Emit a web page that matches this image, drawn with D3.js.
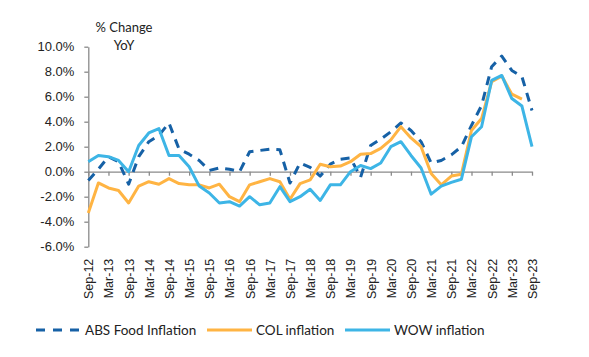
<!DOCTYPE html>
<html><head><meta charset="utf-8">
<script src="https://cdn.jsdelivr.net/npm/d3@7"></script>
<style>
html,body{margin:0;padding:0;background:#fff;}
svg{display:block;font-family:"Lato","Open Sans",sans-serif;}
</style></head><body>
<svg id="c" width="589" height="357"></svg>
<script>
const categories = ["Sep-12","Dec-12","Mar-13","Jun-13","Sep-13","Dec-13","Mar-14","Jun-14","Sep-14","Dec-14",
"Mar-15","Jun-15","Sep-15","Dec-15","Mar-16","Jun-16","Sep-16","Dec-16","Mar-17","Jun-17",
"Sep-17","Dec-17","Mar-18","Jun-18","Sep-18","Dec-18","Mar-19","Jun-19","Sep-19","Dec-19",
"Mar-20","Jun-20","Sep-20","Dec-20","Mar-21","Jun-21","Sep-21","Dec-21","Mar-22","Jun-22",
"Sep-22","Dec-22","Mar-23","Jun-23","Sep-23"];
const tickLabels = ["Sep-12","Mar-13","Sep-13","Mar-14","Sep-14","Mar-15","Sep-15","Mar-16","Sep-16","Mar-17","Sep-17",
"Mar-18","Sep-18","Mar-19","Sep-19","Mar-20","Sep-20","Mar-21","Sep-21","Mar-22","Sep-22","Mar-23","Sep-23"];
const yTicks = [-6,-4,-2,0,2,4,6,8,10];
const absFood = [-0.7,0.2,1.2,0.8,-1.0,1.2,2.4,2.9,3.9,1.8,
1.4,0.9,0.1,0.3,0.2,0.0,1.6,1.7,1.8,1.75,
-0.9,0.7,0.35,-0.35,0.6,1.0,1.1,-0.45,2.1,2.6,
3.2,3.9,3.3,2.4,0.7,0.9,1.35,2.0,3.7,5.3,
8.4,9.25,8.1,7.6,4.9];
const colInfl = [-3.3,-0.9,-1.3,-1.5,-2.5,-1.15,-0.8,-1.0,-0.55,-0.95,
-1.05,-1.05,-1.3,-1.0,-2.0,-2.4,-1.05,-0.8,-0.55,-0.8,
-2.2,-0.95,-0.65,0.6,0.4,0.45,0.8,1.4,1.45,1.87,
2.55,3.6,2.7,2.0,-0.15,-1.05,-0.35,-0.2,3.3,4.25,
7.2,7.65,6.2,5.8,null];
const wowInfl = [0.8,1.3,1.2,0.9,0.0,2.1,3.1,3.45,1.3,1.3,
0.4,-1.15,-1.7,-2.5,-2.4,-2.75,-2.0,-2.65,-2.5,-1.2,
-2.4,-2.0,-1.4,-2.3,-1.05,-1.05,0.0,0.5,0.25,0.7,
2.0,2.4,1.3,0.3,-1.8,-1.15,-0.85,-0.6,2.8,3.6,
7.3,7.7,5.85,5.25,2.0];
const seriesNames = ["ABS Food Inflation","COL inflation","WOW inflation"];
const colors = ["#1661a6","#ffb443","#3db5e6"];

const svg = d3.select("#c");
const x = d3.scalePoint().domain(categories).range([88.3, 532]);
const y = d3.scaleLinear().domain([-6,10]).range([246.7, 46.7]);
const axisColor = "#8a8a8a";

// y axis
const ya = svg.append("g").attr("transform","translate(88.3,0)")
  .call(d3.axisLeft(y).tickValues(yTicks).tickFormat(d=>d.toFixed(1)+"%").tickSize(4).tickSizeOuter(0).tickPadding(10));
ya.select(".domain").attr("stroke",axisColor).attr("stroke-width",1.3);
ya.selectAll(".tick line").attr("stroke",axisColor).attr("stroke-width",1.3);
ya.selectAll("text").attr("font-size",13).attr("fill","#222");

// x axis at zero
const xa = svg.append("g").attr("transform",`translate(0,${y(0)})`)
  .call(d3.axisBottom(x).tickValues(tickLabels).tickFormat("").tickSize(4).tickSizeOuter(0));
xa.select(".domain").attr("stroke",axisColor).attr("stroke-width",1.3);
xa.selectAll(".tick line").attr("stroke",axisColor).attr("stroke-width",1.3);

// x labels at bottom
const xl = svg.append("g").attr("transform",`translate(0,${y(-6)+10})`)
  .call(d3.axisBottom(x).tickValues(tickLabels).tickSize(0));
xl.select(".domain").remove();
xl.selectAll("text").attr("font-size",12.5).attr("fill","#222")
  .attr("transform","rotate(-90)").attr("text-anchor","end")
  .attr("x",-2).attr("y",0).attr("dy","0.35em");

// title
svg.append("text").attr("x",124).attr("y",32).attr("text-anchor","middle").attr("font-size",13).attr("fill","#222").text("% Change");
svg.append("text").attr("x",124).attr("y",50).attr("text-anchor","middle").attr("font-size",13).attr("fill","#222").text("YoY");

const data = [absFood, colInfl, wowInfl];
const line = d3.line().defined(d=>d.v!==null).x(d=>x(d.c)).y(d=>y(d.v));
// draw order: ABS, COL, WOW
data.forEach((arr,i)=>{
  const pts = arr.map((v,j)=>({c:categories[j], v}));
  const p = svg.append("path").datum(pts).attr("d",line)
    .attr("fill","none").attr("stroke",colors[i]).attr("stroke-width",3)
    .attr("stroke-linejoin","round");
  if(i===0) p.attr("stroke-dasharray","9,7");
});

// legend
const legX = [36,207,345];
seriesNames.forEach((n,i)=>{
  const g = svg.append("g");
  const l = g.append("line").attr("x1",legX[i]).attr("x2",legX[i]+45).attr("y1",330).attr("y2",330)
    .attr("stroke",colors[i]).attr("stroke-width",3);
  if(i===0) l.attr("stroke-dasharray","9,8");
  g.append("text").attr("x",legX[i]+49).attr("y",330).attr("dy","0.35em")
    .attr("font-size",13.5).attr("fill","#222").text(n);
});
</script>
</body></html>
